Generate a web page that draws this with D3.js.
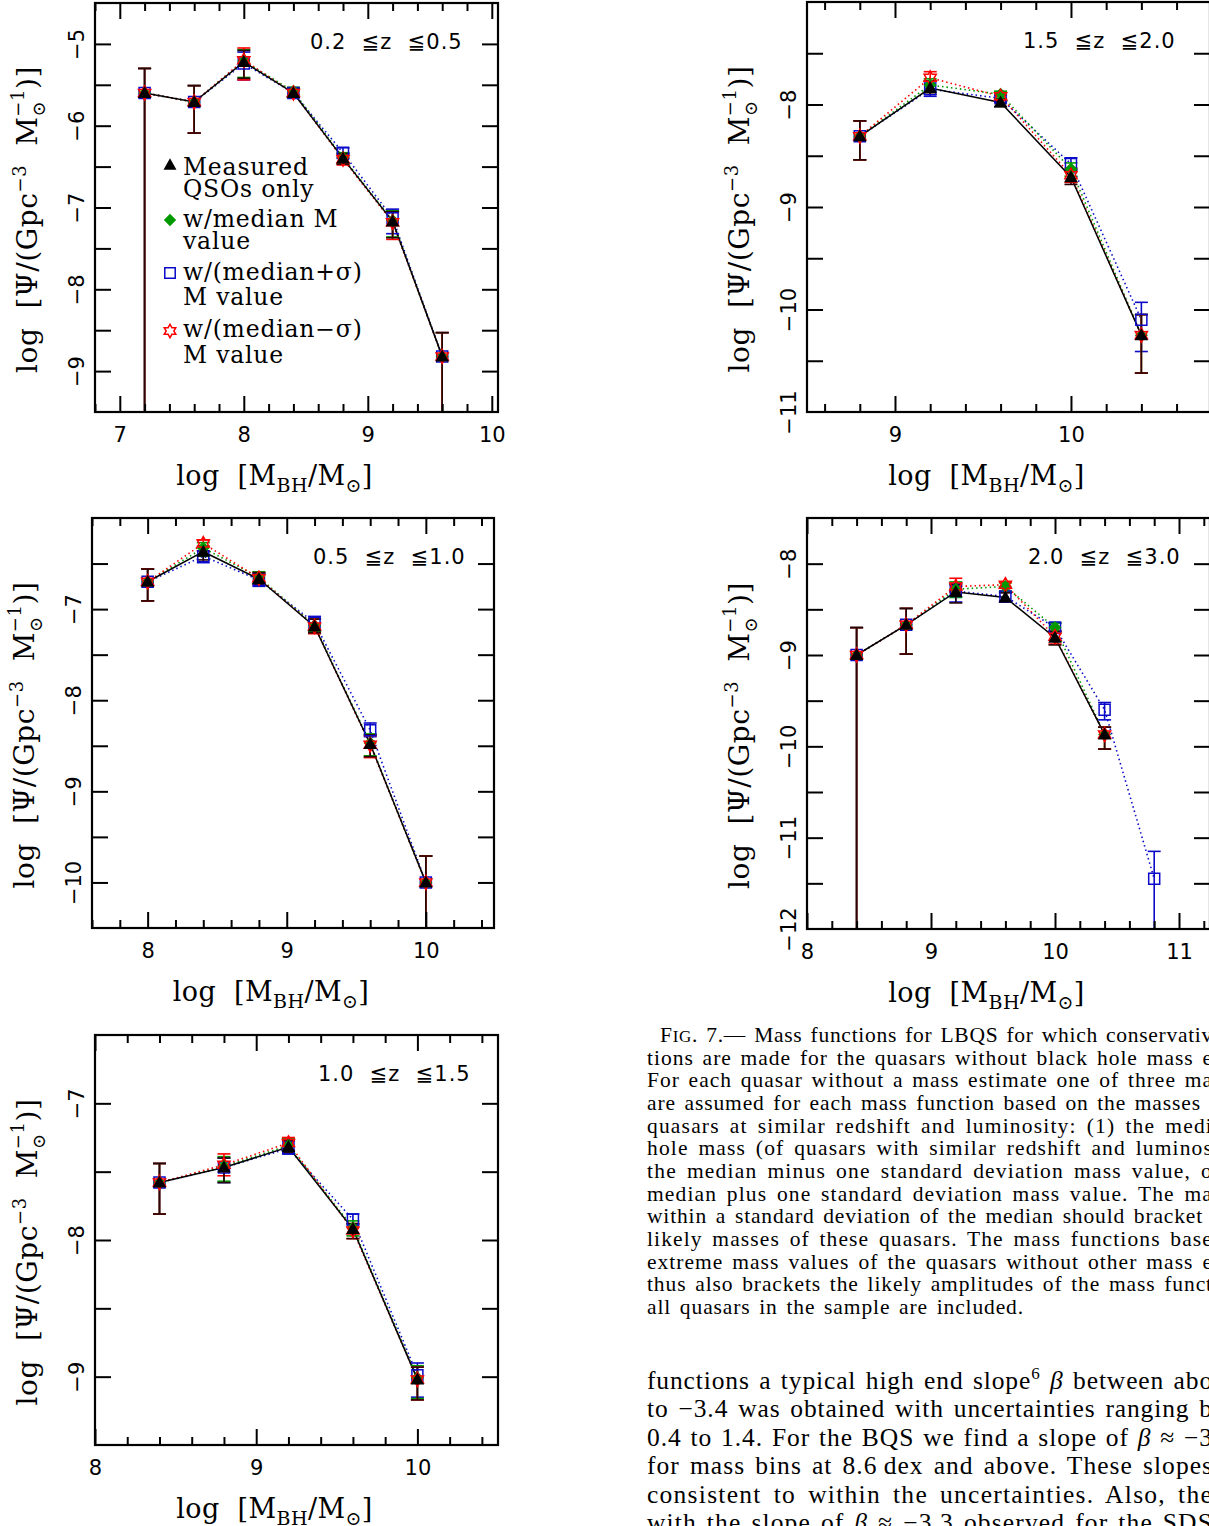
<!DOCTYPE html>
<html>
<head>
<meta charset="utf-8">
<script src="https://cdn.jsdelivr.net/npm/d3@7"></script>
<style>
  html, body { margin: 0; padding: 0; background: #fff; }
  svg text { white-space: pre; }
</style>
</head>
<body>
<svg id="fig" width="1209" height="1526"></svg>
<script>
// ---------------- Data: log Psi per mass bin, with error-bar bounds ----------------
// null in a *Lo array means the lower bound reaches zero density (off the bottom of the plot).

// Panel A: 0.2 <= z <= 0.5
const binsA       = [7.2, 7.6, 8.0, 8.4, 8.8, 9.2, 9.6];
const measuredA   = [-5.60, -5.71, -5.22, -5.60, -6.40, -7.17, -8.82];
const measuredHiA = [-5.30, -5.51, -5.08, -5.55, -6.34, -7.05, -8.53];
const measuredLoA = [null,  -6.09, -5.42, -5.65, -6.47, -7.37, null];
const medianA     = [-5.60, -5.71, -5.21, -5.58, -6.39, -7.16, -8.82];
const medianHiA   = [-5.30, -5.51, -5.07, -5.53, -6.33, -7.04, -8.53];
const medianLoA   = [null,  -6.09, -5.41, -5.63, -6.46, -7.36, null];
const plusA       = [-5.60, -5.71, -5.24, -5.60, -6.33, -7.13, -8.82];
const plusHiA     = [-5.30, -5.51, -5.10, -5.55, -6.27, -7.02, -8.53];
const plusLoA     = [null,  -6.09, -5.44, -5.65, -6.40, -7.32, null];
const minusA      = [-5.60, -5.71, -5.20, -5.60, -6.41, -7.18, -8.82];
const minusHiA    = [-5.30, -5.51, -5.05, -5.55, -6.35, -7.06, -8.53];
const minusLoA    = [null,  -6.09, -5.44, -5.65, -6.48, -7.39, null];

// Panel B: 0.5 <= z <= 1.0
const binsB       = [8.0, 8.4, 8.8, 9.2, 9.6, 10.0];
const measuredB   = [-6.70, -6.37, -6.67, -7.19, -8.48, -10.00];
const measuredHiB = [-6.56, -6.31, -6.60, -7.11, -8.38, -9.71];
const measuredLoB = [-6.91, -6.46, -6.73, -7.26, -8.62, null];
const medianB     = [-6.70, -6.33, -6.65, -7.18, -8.47, -10.00];
const medianHiB   = [-6.56, -6.27, -6.59, -7.10, -8.37, -9.71];
const medianLoB   = [-6.91, -6.42, -6.72, -7.25, -8.61, null];
const plusB       = [-6.70, -6.42, -6.68, -7.15, -8.33, -10.00];
const plusHiB     = [-6.56, -6.36, -6.61, -7.08, -8.25, -9.71];
const plusLoB     = [-6.91, -6.49, -6.75, -7.22, -8.40, null];
const minusB      = [-6.70, -6.28, -6.66, -7.19, -8.49, -10.00];
const minusHiB    = [-6.56, -6.24, -6.60, -7.11, -8.39, -9.71];
const minusLoB    = [-6.91, -6.36, -6.73, -7.27, -8.63, null];

// Panel C: 1.0 <= z <= 1.5
const binsC       = [8.4, 8.8, 9.2, 9.6, 10.0];
const measuredC   = [-7.58, -7.47, -7.32, -7.92, -9.02];
const measuredHiC = [-7.44, -7.40, -7.27, -7.88, -8.93];
const measuredLoC = [-7.81, -7.58, -7.36, -7.99, -9.17];
const medianC     = [-7.58, -7.46, -7.31, -7.91, -9.01];
const medianHiC   = [-7.44, -7.39, -7.26, -7.86, -8.92];
const medianLoC   = [-7.81, -7.57, -7.35, -7.97, -9.16];
const plusC       = [-7.58, -7.47, -7.33, -7.85, -8.99];
const plusHiC     = [-7.44, -7.40, -7.28, -7.81, -8.90];
const plusLoC     = [-7.81, -7.58, -7.37, -7.89, -9.15];
const minusC      = [-7.58, -7.45, -7.29, -7.93, -9.02];
const minusHiC    = [-7.44, -7.37, -7.25, -7.88, -8.93];
const minusLoC    = [-7.81, -7.53, -7.34, -7.99, -9.17];

// Panel D: 1.5 <= z <= 2.0
const binsD       = [8.8, 9.2, 9.6, 10.0, 10.4];
const measuredD   = [-8.31, -7.84, -7.98, -8.71, -10.25];
const measuredHiD = [-8.16, -7.77, -7.95, -8.64, -10.05];
const measuredLoD = [-8.54, -7.90, -8.02, -8.78, -10.62];
const medianD     = [-8.31, -7.81, -7.90, -8.63, -10.25];
const medianHiD   = [-8.16, -7.75, -7.87, -8.57, -10.05];
const medianLoD   = [-8.54, -7.87, -7.94, -8.70, -10.62];
const plusD       = [-8.31, -7.85, -7.94, -8.58, -10.10];
const plusHiD     = [-8.16, -7.78, -7.91, -8.52, -9.93];
const plusLoD     = [-8.54, -7.92, -7.98, -8.63, -10.41];
const minusD      = [-8.31, -7.74, -7.92, -8.69, -10.25];
const minusHiD    = [-8.16, -7.68, -7.89, -8.62, -10.05];
const minusLoD    = [-8.54, -7.77, -7.96, -8.76, -10.62];

// Panel E: 2.0 <= z <= 3.0 (only the median+sigma set reaches the 10.8 bin)
const binsE       = [8.4, 8.8, 9.2, 9.6, 10.0, 10.4, 10.8];
const measuredE   = [-9.00, -8.67, -8.31, -8.37, -8.81, -9.87];
const measuredHiE = [-8.70, -8.49, -8.23, -8.32, -8.74, -9.79];
const measuredLoE = [null,  -8.99, -8.43, -8.42, -8.89, -10.03];
const medianE     = [-9.00, -8.67, -8.28, -8.25, -8.70, -9.87];
const medianHiE   = [-8.70, -8.49, -8.20, -8.21, -8.65, -9.79];
const medianLoE   = [null,  -8.99, -8.37, -8.30, -8.76, -10.03];
const plusE       = [-9.00, -8.67, -8.30, -8.36, -8.70, -9.60, -11.45];
const plusHiE     = [-8.70, -8.49, -8.22, -8.31, -8.65, -9.52, -11.15];
const plusLoE     = [null,  -8.99, -8.42, -8.41, -8.74, -9.71, null];
const minusE      = [-9.00, -8.67, -8.25, -8.23, -8.80, -9.87];
const minusHiE    = [-8.70, -8.49, -8.16, -8.20, -8.74, -9.79];
const minusLoE    = [null,  -8.99, -8.31, -8.27, -8.88, -10.03];

// Tick labels per panel
const xLabelsA = [7, 8, 9, 10],  yLabelsA = [-5, -6, -7, -8, -9];
const xLabelsB = [8, 9, 10],     yLabelsB = [-7, -8, -9, -10];
const xLabelsC = [8, 9, 10],     yLabelsC = [-7, -8, -9];
const xLabelsD = [9, 10],        yLabelsD = [-8, -9, -10, -11];
const xLabelsE = [8, 9, 10, 11], yLabelsE = [-8, -9, -10, -11, -12];

const titlesZ = ["0.2  \u2266z  \u22660.5", "0.5  \u2266z  \u22661.0", "1.0  \u2266z  \u22661.5",
                 "1.5  \u2266z  \u22662.0", "2.0  \u2266z  \u22663.0"];

// Legend entries (panel A)
const legendLines = [
  ["Measured", "QSOs only"],
  ["w/median M", "value"],
  ["w/(median+\u03c3)", "M value"],
  ["w/(median\u2212\u03c3)", "M value"]
];

// ---------------- Layout / style ----------------
const svg = d3.select("#fig");
const defs = svg.append("defs");
const serif = "'DejaVu Serif', serif";
const sans = "'DejaVu Sans', sans-serif";
const textSerif = "'Liberation Serif', serif";

const panels = [
  { id: "A", box: [95, 3, 498, 412],    xd: [6.8, 10.05], yd: [-9.5, -4.5], title: titlesZ[0], tdx: 215,
    bins: binsA, xl: xLabelsA, yl: yLabelsA, legend: true,
    data: { measured: [measuredA, measuredLoA, measuredHiA], median: [medianA, medianLoA, medianHiA],
            plus: [plusA, plusLoA, plusHiA], minus: [minusA, minusLoA, minusHiA] } },
  { id: "B", box: [92, 518, 494, 928],  xd: [7.6, 10.49], yd: [-10.5, -6], title: titlesZ[1], tdx: 221,
    bins: binsB, xl: xLabelsB, yl: yLabelsB,
    data: { measured: [measuredB, measuredLoB, measuredHiB], median: [medianB, medianLoB, medianHiB],
            plus: [plusB, plusLoB, plusHiB], minus: [minusB, minusLoB, minusHiB] } },
  { id: "C", box: [95, 1035, 498, 1445], xd: [8.0, 10.5], yd: [-9.5, -6.5], title: titlesZ[2], tdx: 223,
    bins: binsC, xl: xLabelsC, yl: yLabelsC,
    data: { measured: [measuredC, measuredLoC, measuredHiC], median: [medianC, medianLoC, medianHiC],
            plus: [plusC, plusLoC, plusHiC], minus: [minusC, minusLoC, minusHiC] } },
  { id: "D", box: [807, 2, 1210, 412],  xd: [8.5, 10.79], yd: [-11, -7], title: titlesZ[3], tdx: 216,
    bins: binsD, xl: xLabelsD, yl: yLabelsD,
    data: { measured: [measuredD, measuredLoD, measuredHiD], median: [medianD, medianLoD, medianHiD],
            plus: [plusD, plusLoD, plusHiD], minus: [minusD, minusLoD, minusHiD] } },
  { id: "E", box: [807, 518, 1210, 929], xd: [8.0, 11.25], yd: [-12, -7.5], title: titlesZ[4], tdx: 221,
    bins: binsE, xl: xLabelsE, yl: yLabelsE,
    data: { measured: [measuredE, measuredLoE, measuredHiE], median: [medianE, medianLoE, medianHiE],
            plus: [plusE, plusLoE, plusHiE], minus: [minusE, minusLoE, minusHiE] } }
];

// drawing order: blue, green, red, then black on top
const seriesStyles = [
  { key: "plus",     color: "#0a0ac8", bar: "#0a0ac8", marker: "square",   dash: "1.5,3" },
  { key: "median",   color: "#009a00", bar: "#009a00", marker: "diamond",  dash: "1.5,3" },
  { key: "minus",    color: "#ff0000", bar: "#ff0000", marker: "star",     dash: "1.5,3" },
  { key: "measured", color: "#000000", bar: "#260606", marker: "triangle", dash: null }
];

function markerPath(type, s) {
  if (type === "triangle") {
    return `M0,${-7 * s}L${6.8 * s},${5 * s}L${-6.8 * s},${5 * s}Z`;
  }
  if (type === "square") {
    const h = 5.5 * s;
    return `M${-h},${-h}H${h}V${h}H${-h}Z`;
  }
  if (type === "diamond") {
    const h = 6.5 * s;
    return `M0,${-h}L${h},0L0,${h}L${-h},0Z`;
  }
  // six-pointed star outline
  const pts = [];
  for (let k = 0; k < 12; k++) {
    const r = (k % 2 === 0 ? 7 : 4.04) * s;
    const a = -Math.PI / 2 + k * Math.PI / 6;
    pts.push([r * Math.cos(a), r * Math.sin(a)]);
  }
  return "M" + pts.map(p => p.join(",")).join("L") + "Z";
}

function styleMarker(sel, st) {
  if (st.marker === "square" || st.marker === "star") {
    sel.attr("fill", "none").attr("stroke", st.color).attr("stroke-width", 1.5);
  } else {
    sel.attr("fill", st.color).attr("stroke", "none");
  }
}

function drawPanel(p) {
  const [x0, y0, x1, y1] = p.box;
  const x = d3.scaleLinear().domain(p.xd).range([x0, x1]);
  const y = d3.scaleLinear().domain(p.yd).range([y1, y0]);
  const g = svg.append("g").attr("class", "panel-" + p.id);

  defs.append("clipPath").attr("id", "clip" + p.id)
    .append("rect").attr("x", x0).attr("y", y0).attr("width", x1 - x0).attr("height", y1 - y0);
  const plot = g.append("g").attr("clip-path", `url(#clip${p.id})`);

  const pts = {};
  seriesStyles.forEach(st => {
    const [v, lo, hi] = p.data[st.key];
    pts[st.key] = v.map((val, i) => ({ m: p.bins[i], v: val, lo: lo[i], hi: hi[i] }));
  });

  const line = d3.line().x(d => x(d.m)).y(d => y(d.v));
  seriesStyles.forEach(st => {
    plot.append("path").datum(pts[st.key]).attr("d", line)
      .attr("fill", "none").attr("stroke", st.color).attr("stroke-width", st.dash ? 1.6 : 1.5)
      .attr("stroke-dasharray", st.dash);
  });

  const cap = 6.5;
  seriesStyles.forEach(st => {
    const eb = plot.append("g").attr("stroke", st.bar).attr("stroke-width", 1.6).attr("fill", "none");
    pts[st.key].forEach(d => {
      const yHi = y(d.hi);
      const yLo = d.lo === null ? y1 + 5 : y(d.lo);
      const cx = x(d.m);
      eb.append("line").attr("x1", cx).attr("x2", cx).attr("y1", yHi).attr("y2", yLo);
      eb.append("line").attr("x1", cx - cap).attr("x2", cx + cap).attr("y1", yHi).attr("y2", yHi);
      if (d.lo !== null) eb.append("line").attr("x1", cx - cap).attr("x2", cx + cap).attr("y1", yLo).attr("y2", yLo);
    });
  });

  seriesStyles.forEach(st => {
    plot.append("g").selectAll("path").data(pts[st.key]).join("path")
      .attr("transform", d => `translate(${x(d.m)},${y(d.v)})`)
      .attr("d", markerPath(st.marker, 1))
      .call(styleMarker, st);
  });

  // ticks: integers long, 0.2 steps short on x; every 0.5 on y
  const isInt = v => Math.abs(v - Math.round(v)) < 1e-6;
  const xMajor = d3.range(Math.ceil(p.xd[0] - 1e-9), Math.floor(p.xd[1] + 1e-9) + 1);
  const xMinor = d3.range(Math.ceil(p.xd[0] / 0.2 - 1e-6), Math.floor(p.xd[1] / 0.2 + 1e-6) + 1)
    .map(k => +(k * 0.2).toFixed(3)).filter(v => !isInt(v));
  const yTicks = d3.range(Math.ceil(p.yd[0] / 0.5 - 1e-6), Math.floor(p.yd[1] / 0.5 + 1e-6) + 1)
    .map(k => k * 0.5).filter(v => v > p.yd[0] + 1e-6 && v < p.yd[1] - 1e-6);

  const axes = g.append("g");
  const tickAxis = (axis, tr) => {
    const a = axes.append("g").attr("transform", tr).call(axis);
    a.select(".domain").remove();
    a.selectAll("line").attr("stroke", "#000").attr("stroke-width", 2);
  };
  tickAxis(d3.axisBottom(x).tickValues(xMinor).tickSize(-8).tickFormat(""), `translate(0,${y1})`);
  tickAxis(d3.axisBottom(x).tickValues(xMajor).tickSize(-16).tickFormat(""), `translate(0,${y1})`);
  tickAxis(d3.axisTop(x).tickValues(xMinor).tickSize(-8).tickFormat(""), `translate(0,${y0})`);
  tickAxis(d3.axisTop(x).tickValues(xMajor).tickSize(-16).tickFormat(""), `translate(0,${y0})`);
  tickAxis(d3.axisLeft(y).tickValues(yTicks).tickSize(-16).tickFormat(""), `translate(${x0},0)`);
  tickAxis(d3.axisRight(y).tickValues(yTicks).tickSize(-16).tickFormat(""), `translate(${x1},0)`);

  // tick labels
  const xl = axes.append("g").attr("transform", `translate(0,${y1})`)
    .call(d3.axisBottom(x).tickValues(p.xl).tickSize(0).tickFormat(d3.format("d")));
  xl.select(".domain").remove();
  xl.attr("font-family", sans).attr("font-size", 21);
  xl.selectAll("text").attr("y", 30).attr("dy", null).attr("fill", "#000");

  const yl = axes.append("g").attr("transform", `translate(${x0},0)`)
    .call(d3.axisLeft(y).tickValues(p.yl).tickSize(0).tickFormat(d3.format("d")));
  yl.select(".domain").remove();
  yl.attr("font-family", sans).attr("font-size", 21).attr("text-anchor", "middle");
  yl.selectAll("text").attr("x", 0).attr("y", -11).attr("dy", null)
    .attr("transform", "rotate(-90)").attr("fill", "#000");

  // frame
  g.append("rect").attr("x", x0).attr("y", y0).attr("width", x1 - x0).attr("height", y1 - y0)
    .attr("fill", "none").attr("stroke", "#000").attr("stroke-width", 2.2);

  // redshift range
  g.append("text").attr("x", x0 + p.tdx).attr("y", y0 + 46)
    .attr("font-family", sans).attr("font-size", 21).attr("letter-spacing", 1.0)
    .text(p.title);

  // y-axis title
  const yt = g.append("text")
    .attr("transform", `translate(${x0 - 58},${(y0 + y1) / 2 + 12}) rotate(-90)`)
    .attr("text-anchor", "middle").attr("font-family", serif).attr("font-size", 28)
    .attr("letter-spacing", 0.6);
  yt.append("tspan").text("log  [\u03a8/(Gpc");
  yt.append("tspan").attr("dy", -11).attr("font-size", 18).text("\u22123");
  yt.append("tspan").attr("dy", 11).text("  M");
  yt.append("tspan").attr("dy", 8).attr("font-size", 18).text("\u2299");
  yt.append("tspan").attr("dx", -16).attr("dy", -21).attr("font-size", 18).text("\u22121");
  yt.append("tspan").attr("dy", 13).text(")]");

  // x-axis title
  const xt = g.append("text").attr("x", (x0 + x1) / 2 - 22).attr("y", y1 + 73)
    .attr("text-anchor", "middle").attr("font-family", serif).attr("font-size", 27)
    .attr("letter-spacing", 0.4);
  xt.append("tspan").text("log  [M");
  xt.append("tspan").attr("dy", 7).attr("font-size", 19).text("BH");
  xt.append("tspan").attr("dy", -7).text("/M");
  xt.append("tspan").attr("dy", 7).attr("font-size", 19).text("\u2299");
  xt.append("tspan").attr("dy", -7).text("]");

  if (p.legend) {
    const lg = g.append("g");
    const markerY = [165, 220, 273, 331];
    const textY = [[175, 197], [227, 249], [280, 305], [337, 363]];
    const order = ["measured", "median", "plus", "minus"];
    order.forEach((key, i) => {
      const st = seriesStyles.find(s => s.key === key);
      lg.append("path").attr("transform", `translate(170,${markerY[i]})`)
        .attr("d", markerPath(st.marker, 0.95)).call(styleMarker, st);
      legendLines[i].forEach((t, j) => {
        lg.append("text").attr("x", 183).attr("y", textY[i][j])
          .attr("font-family", serif).attr("font-size", 23.5).attr("letter-spacing", 0.8).text(t);
      });
    });
  }
}

panels.forEach(drawPanel);

// ---------------- Caption and running text ----------------
const capLines = [
  "Mass functions for LBQS for which conservativ",
  "tions are made for the quasars without black hole mass e",
  "For each quasar without a mass estimate one of three ma",
  "are assumed for each mass function based on the masses",
  "quasars at similar redshift and luminosity: (1) the medi",
  "hole mass (of quasars with similar redshift and luminos",
  "the median minus one standard deviation mass value, o",
  "median plus one standard deviation mass value. The ma",
  "within a standard deviation of the median should bracket",
  "likely masses of these quasars. The mass functions base",
  "extreme mass values of the quasars without other mass e",
  "thus also brackets the likely amplitudes of the mass funct",
  "all quasars in the sample are included."
];
const capEnds = [1213, 1213, 1213, 1201, 1213, 1213, 1213, 1213, 1203, 1213, 1213, 1213, 1024];

// stretch a line to its measured width, mostly through letter spacing, partly through word spacing
function fitLine(t, x, target) {
  const s = t.text();
  const n = s.length;
  const spaces = (s.match(/ /g) || []).length;
  const w = t.node().getComputedTextLength();
  const extra = target - x - w;
  const ls = (0.7 * extra) / n;
  const ws = spaces ? (0.3 * extra) / spaces : 0;
  t.attr("letter-spacing", ls.toFixed(3)).attr("word-spacing", ws.toFixed(3));
}

const cap = svg.append("g").attr("font-family", textSerif).attr("font-size", 21.5).attr("fill", "#000");
capLines.forEach((s, i) => {
  const yb = 1042 + i * 22.67;
  const x = i === 0 ? 660 : 647;
  const t = cap.append("text").attr("x", x).attr("y", yb);
  if (i === 0) {
    t.append("tspan").text("F");
    t.append("tspan").attr("font-size", 17).text("IG");
    t.append("tspan").text(". 7.\u2014 " + s);
  } else {
    t.text(s);
  }
  fitLine(t, x, capEnds[i]);
});

const body = svg.append("g").attr("font-family", textSerif).attr("font-size", 25.5).attr("fill", "#000");
const bodyLines = [
  [["functions a typical high end slope"], ["6", "sup"], [" "], ["\u03b2", "it"], [" between abo"]],
  [["to \u22123.4 was obtained with uncertainties ranging b"]],
  [["0.4 to 1.4. For the BQS we find a slope of "], ["\u03b2", "it"], [" \u2248 \u22123"]],
  [["for mass bins at 8.6\u2009dex and above. These slopes"]],
  [["consistent to within the uncertainties. Also, the"]],
  [["with the slope of "], ["\u03b2", "it"], [" \u2248 \u22123.3 observed for the SDS"]]
];
bodyLines.forEach((parts, i) => {
  const t = body.append("text").attr("x", 647).attr("y", 1389 + i * 28.45);
  let raised = false;
  parts.forEach(([s, kind]) => {
    const ts = t.append("tspan").text(s);
    if (kind === "sup") { ts.attr("font-size", 17).attr("dy", -10); raised = true; }
    else if (raised) { ts.attr("dy", 10); raised = false; }
    if (kind === "it") ts.attr("font-style", "italic");
  });
  fitLine(t, 647, 1213);
});
</script>
</body>
</html>
